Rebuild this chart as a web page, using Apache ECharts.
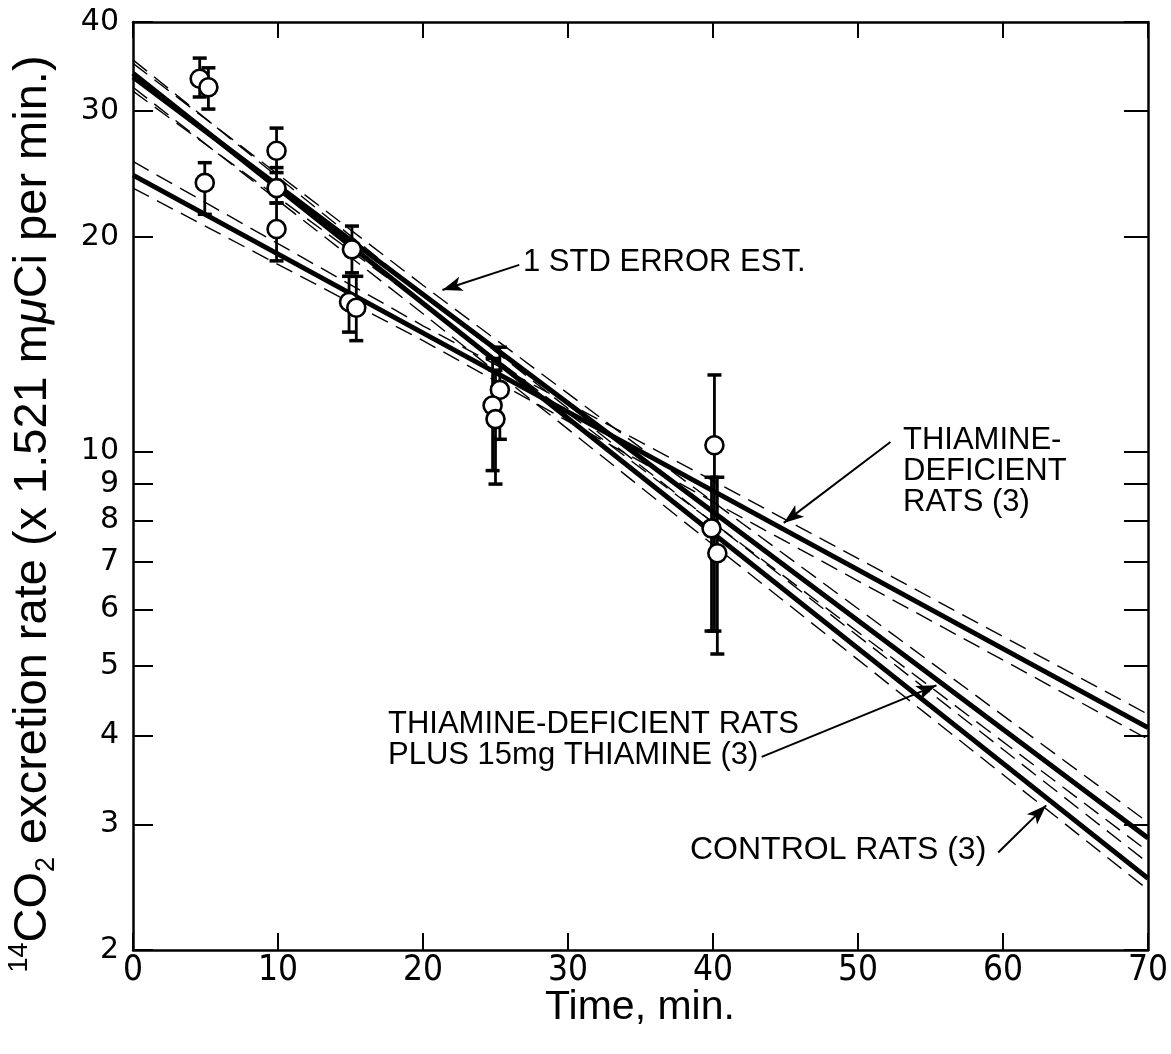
<!DOCTYPE html>
<html><head><meta charset="utf-8">
<script src="https://cdn.jsdelivr.net/npm/echarts@6/dist/echarts.min.js"></script>
<style>html,body{margin:0;padding:0;background:#fff}#c{width:1171px;height:1054px}</style>
</head><body><div id="c"></div>
<script>
// ---- data ----
const xTicks = [0, 10, 20, 30, 40, 50, 60, 70];
const yTicks = [2, 3, 4, 5, 6, 7, 8, 9, 10, 20, 30, 40];

// fitted regression lines (end points)
const fitX = [0, 70];
const controlFit = [33.9, 2.52];
const plusFit = [33.5, 2.87];
const defFit = [24.4, 4.10];

// 1 std error bands
const bandX = [0, 20, 40, 70];
const controlUpper = [35.4, 16.6, 7.95, 2.65];
const controlLower = [32.4, 15.6, 7.40, 2.43];
const plusUpper = [35.0, 17.1, 8.50, 3.02];
const plusLower = [32.0, 16.1, 7.95, 2.75];
const defUpper = [25.5, 15.0, 9.10, 4.28];
const defLower = [23.4, 14.3, 8.50, 3.95];

// observations with error bars
const obsX    = [4.6, 5.2, 4.95, 9.9, 9.9, 9.9, 15.1, 14.9, 15.4, 25.3, 24.8, 25.0, 40.1, 39.9, 40.3];
const obsY    = [33.3, 32.4, 23.8, 26.4, 23.4, 20.5, 19.2, 16.2, 15.9, 12.2, 11.6, 11.1, 10.2, 7.8, 7.2];
const obsLow  = [31.4, 30.2, 21.5, 24.6, 22.3, 18.5, 17.8, 14.7, 14.3, 10.4, 9.4, 9.0, 5.6, 5.6, 5.2];
const obsHigh = [35.6, 34.5, 25.4, 28.4, 25.0, 22.3, 20.7, 17.6, 17.6, 14.0, 13.5, 13.0, 12.8, 9.2, 9.2];

// annotation arrows (data coordinates)
const arrowFrom = [[26.64, 18.26], [52.24, 10.31], [43.36, 3.73], [59.67, 2.74]];
const arrowTo   = [[21.34, 16.84], [44.88, 7.94], [55.41, 4.70], [62.98, 3.19]];

// ---- chart ----
const zip = (xs, ys) => xs.map((x, i) => [x, ys[i]]);
const chart = echarts.init(document.getElementById('c'), null, {renderer: 'canvas'});

const FONT = '"Liberation Sans", Arial, sans-serif';
const axisLineStyle = {color: '#000', width: 2.5};
const thick = (name, ys) => ({
  name, type: 'line', data: zip(fitX, ys), symbol: 'none', z: 3,
  lineStyle: {color: '#000', width: 5}
});
const dashed = (name, ys) => ({
  name, type: 'line', data: zip(bandX, ys), symbol: 'none', z: 2,
  lineStyle: {color: '#000', width: 1.4, type: [18, 9]}
});
const label = (x, y, text, size) => ({type: 'text', x, y,
  style: {text, fontSize: size || 31, fontFamily: FONT, fill: '#000', textVerticalAlign: 'middle'}});

const option = {
  animation: false,
  backgroundColor: '#fff',
  grid: {left: 133, right: 21, top: 22, bottom: 104},
  xAxis: [
    {type: 'value', min: 0, max: 70, interval: 10, position: 'bottom',
     axisLine: {show: true, onZero: false, lineStyle: axisLineStyle},
     axisTick: {show: true, inside: true, length: 17, lineStyle: {color: '#000', width: 2}},
     axisLabel: {show: true, margin: 3, color: '#000', fontSize: 35,
       fontFamily: '"Liberation Sans Narrow", "DejaVu Sans Condensed", "Liberation Sans", sans-serif'},
     splitLine: {show: false}},
    {type: 'value', min: 0, max: 70, interval: 10, position: 'top',
     axisLine: {show: true, onZero: false, lineStyle: axisLineStyle},
     axisTick: {show: true, inside: true, length: 16, lineStyle: {color: '#000', width: 2}},
     axisLabel: {show: false}, splitLine: {show: false}}
  ],
  yAxis: [
    {type: 'log', logBase: 10, min: 2, max: 40, position: 'left',
     axisLine: {show: true, onZero: false, lineStyle: axisLineStyle},
     axisTick: {show: true, inside: true, length: 20, customValues: yTicks, lineStyle: {color: '#000', width: 2}},
     axisLabel: {show: true, customValues: yTicks, margin: 14, color: '#000', fontSize: 30,
       fontFamily: '"DejaVu Sans", sans-serif'},
     minorTick: {show: false}, splitLine: {show: false}},
    {type: 'log', logBase: 10, min: 2, max: 40, position: 'right',
     axisLine: {show: true, onZero: false, lineStyle: axisLineStyle},
     axisTick: {show: true, inside: true, length: 24, customValues: yTicks, lineStyle: {color: '#000', width: 2}},
     axisLabel: {show: false}, minorTick: {show: false}, splitLine: {show: false}}
  ],
  series: [
    dashed('controlUpper', controlUpper),
    dashed('controlLower', controlLower),
    dashed('plusUpper', plusUpper),
    dashed('plusLower', plusLower),
    dashed('defUpper', defUpper),
    dashed('defLower', defLower),
    thick('control', controlFit),
    thick('plus', plusFit),
    thick('deficient', defFit),
    {
      name: 'errors', type: 'custom', z: 4,
      data: obsX.map((x, i) => [x, obsY[i], obsLow[i], obsHigh[i]]),
      encode: {x: 0, y: 1},
      renderItem: function (params, api) {
        const x = api.value(0);
        const lo = api.coord([x, api.value(2)]);
        const hi = api.coord([x, api.value(3)]);
        const cap = 7;
        return {type: 'group', children: [
          {type: 'line', shape: {x1: lo[0], y1: lo[1], x2: hi[0], y2: hi[1]}, style: {stroke: '#000', lineWidth: 2.8}},
          {type: 'line', shape: {x1: lo[0] - cap, y1: lo[1], x2: lo[0] + cap, y2: lo[1]}, style: {stroke: '#000', lineWidth: 3.5}},
          {type: 'line', shape: {x1: hi[0] - cap, y1: hi[1], x2: hi[0] + cap, y2: hi[1]}, style: {stroke: '#000', lineWidth: 3.5}}
        ]};
      }
    },
    {
      name: 'obs', type: 'scatter', z: 5,
      data: zip(obsX, obsY), symbol: 'circle', symbolSize: 18,
      itemStyle: {color: '#fff', borderColor: '#000', borderWidth: 2.6, opacity: 1},
      markLine: {
        silent: true, symbol: ['none', 'arrow'], symbolSize: [11, 20], precision: 4,
        lineStyle: {color: '#000', width: 2, type: 'solid', opacity: 1},
        label: {show: false},
        data: arrowFrom.map((f, i) => [{coord: f}, {coord: arrowTo[i]}])
      }
    }
  ],
  graphic: [
    label(523, 262, '1 STD ERROR EST.'),
    label(903, 440, 'THIAMINE-'),
    label(903, 471, 'DEFICIENT'),
    label(903, 502, 'RATS (3)'),
    label(388, 724, 'THIAMINE-DEFICIENT RATS'),
    label(388, 755, 'PLUS 15mg THIAMINE (3)'),
    label(690, 850, 'CONTROL RATS (3)', 32),
    {type: 'text', x: 640, y: 1008, style: {text: 'Time, min.', fontSize: 41, fontFamily: FONT, fill: '#000', textAlign: 'center', textVerticalAlign: 'middle'}},
    {type: 'text', x: 33, y: 514, rotation: Math.PI / 2,
     style: {
       text: '{sup|14}{m|CO}{sub|2}{m| excretion rate (x 1.521 m}{it|μ}{m|Ci per min.)}',
       textAlign: 'center', textVerticalAlign: 'middle', fill: '#000',
       rich: {
         m: {fontSize: 47, lineHeight: 54, fontFamily: FONT, fill: '#000'},
         it: {fontSize: 47, lineHeight: 54, fontStyle: 'italic', fontFamily: FONT, fill: '#000'},
         sup: {fontSize: 27, lineHeight: 54, verticalAlign: 'top', fontFamily: FONT, fill: '#000'},
         sub: {fontSize: 27, lineHeight: 54, verticalAlign: 'bottom', fontFamily: FONT, fill: '#000'}
       }
     }}
  ]
};
chart.setOption(option);
</script>
</body></html>
